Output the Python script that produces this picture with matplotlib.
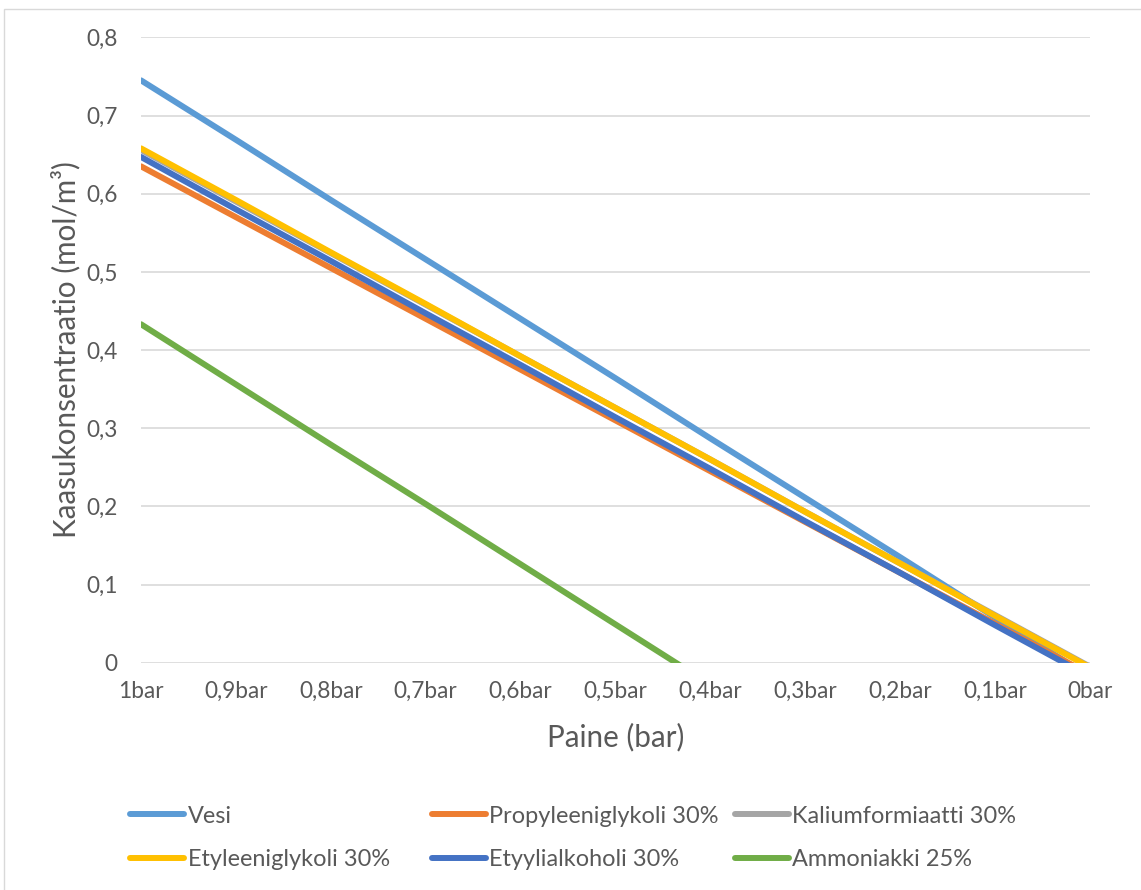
import matplotlib.pyplot as plt
from matplotlib.patches import Rectangle

plt.rcParams['font.family'] = ['Lato', 'DejaVu Sans']

OUTPUT_FILENAME = 'out.png'
X_AXIS_LABEL = 'Paine (bar)'
Y_AXIS_LABEL = 'Kaasukonsentraatio (mol/m³)'
TEXT_COLOR = '#595959'
GRID_COLOR = '#d9d9d9'

CATEGORIES = ['1bar', '0,9bar', '0,8bar', '0,7bar', '0,6bar', '0,5bar',
              '0,4bar', '0,3bar', '0,2bar', '0,1bar', '0bar']
Y_TICKS = [0, 0.1, 0.2, 0.3, 0.4, 0.5, 0.6, 0.7, 0.8]

vesi = [0.745, 0.669, 0.592, 0.516, 0.440, 0.364, 0.287, 0.211, 0.135, 0.058, -0.018]
propyleeniglykoli = [0.635, 0.570, 0.505, 0.440, 0.375, 0.310, 0.245, 0.180, 0.115, 0.050, -0.015]
kaliumformiaatti = [0.656, 0.590, 0.524, 0.458, 0.392, 0.326, 0.260, 0.193, 0.127, 0.061, -0.005]
etyleeniglykoli = [0.658, 0.592, 0.525, 0.459, 0.392, 0.326, 0.260, 0.193, 0.127, 0.060, -0.006]
etyylialkoholi = [0.647, 0.580, 0.514, 0.447, 0.381, 0.314, 0.248, 0.181, 0.115, 0.048, -0.018]
ammoniakki = [0.433, 0.356, 0.279, 0.203, 0.126, 0.049, -0.028, -0.105, -0.181, -0.258, -0.335]

SERIES = [('Vesi', vesi, '#5B9BD5'),
          ('Propyleeniglykoli 30%', propyleeniglykoli, '#ED7D31'),
          ('Kaliumformiaatti 30%', kaliumformiaatti, '#A5A5A5'),
          ('Etyleeniglykoli 30%', etyleeniglykoli, '#FFC000'),
          ('Etyylialkoholi 30%', etyylialkoholi, '#4472C4'),
          ('Ammoniakki 25%', ammoniakki, '#70AD47')]


def main():
    fig = plt.figure(figsize=(11.41, 8.9), dpi=100)
    ax = fig.add_axes([0.1236, 0.2554, 0.8316, 0.7026])

    x = list(range(len(CATEGORIES)))
    lines = []
    for label, values, color in SERIES:
        line, = ax.plot(x, values, color=color, lw=4.3, label=label,
                        solid_capstyle='round')
        lines.append(line)

    ax.set_xlim(0, len(CATEGORIES) - 1)
    ax.set_ylim(0, 0.8)
    ax.set_xticks(x)
    ax.set_xticklabels(CATEGORIES)
    ax.set_yticks(Y_TICKS)
    ax.set_yticklabels(['0' if v == 0 else ('%.1f' % v).replace('.', ',') for v in Y_TICKS])
    ax.tick_params(length=0, labelsize=16.3, colors=TEXT_COLOR)
    ax.tick_params(axis='y', pad=17)
    ax.tick_params(axis='x', pad=13)
    ax.grid(axis='y', color=GRID_COLOR, lw=1.2)
    ax.set_axisbelow(True)
    for spine in ax.spines.values():
        spine.set_visible(False)

    ax.set_xlabel(X_AXIS_LABEL, fontsize=21.3, color=TEXT_COLOR)
    ax.set_ylabel(Y_AXIS_LABEL, fontsize=21.3, color=TEXT_COLOR)
    ax.xaxis.set_label_coords(0.5, -0.0955)
    ax.yaxis.set_label_coords(-0.064, 0.5)

    # three one-column legends, to get Excel's fixed-width columns
    for col, xpos in enumerate([0.114, 0.3786, 0.644]):
        handles = [lines[col], lines[col + 3]]
        fig.legend(handles=handles, loc='center left',
                   bbox_to_anchor=(xpos, 0.0586), frameon=False,
                   fontsize=16.9, handlelength=2.3, handletextpad=0.15,
                   borderpad=0, borderaxespad=0, labelspacing=0.95,
                   labelcolor=TEXT_COLOR)

    fig.patches.append(Rectangle((3.5 / 1141, -0.01), 1.0, 1 - 8.5 / 890 + 0.01,
                                 transform=fig.transFigure, fill=False,
                                 edgecolor=GRID_COLOR, lw=1))

    fig.savefig(OUTPUT_FILENAME, dpi=100)
    plt.close(fig)


if __name__ == '__main__':
    main()
